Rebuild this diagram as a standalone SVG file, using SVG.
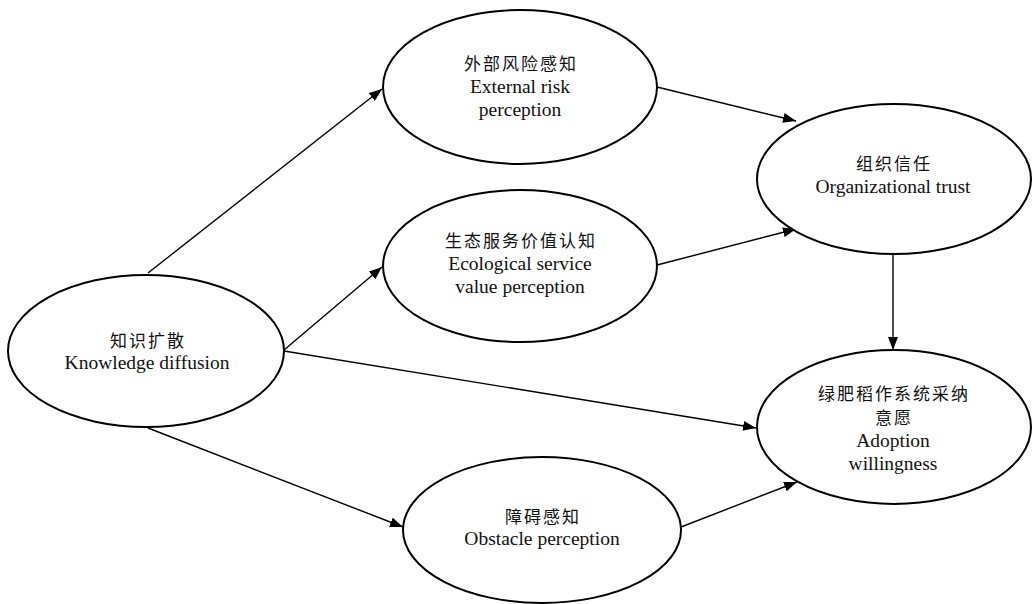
<svg xmlns="http://www.w3.org/2000/svg" width="1034" height="604" viewBox="0 0 1034 604">
<style>
.node ellipse{fill:#fff;stroke:#000;stroke-width:2}
.zh{font-family:"Noto Sans CJK SC","Noto Sans",sans-serif;font-size:17px;fill:#111;text-anchor:middle;letter-spacing:2px}
.en{font-family:"Liberation Serif",serif;font-size:19.5px;fill:#111;text-anchor:middle}
.edges line{stroke:#000;stroke-width:1.4;marker-end:url(#arr)}
</style>
<defs>
<marker id="arr" markerUnits="userSpaceOnUse" markerWidth="14" markerHeight="10" refX="13" refY="5" orient="auto">
<path d="M0,0 L13,5 L0,10 z" fill="#000"/>
</marker>
</defs>
<rect width="1034" height="604" fill="#fff"/>
<g class="edges">
<line x1="148" y1="273" x2="382" y2="89"/>
<line x1="284" y1="350" x2="382" y2="267"/>
<line x1="284" y1="351" x2="756" y2="428"/>
<line x1="148" y1="428" x2="403" y2="527"/>
<line x1="657" y1="87" x2="796" y2="121"/>
<line x1="657" y1="265" x2="796" y2="229"/>
<line x1="893" y1="253" x2="893" y2="350"/>
<line x1="681" y1="527" x2="797" y2="482"/>
</g>
<g id="knowledge" class="node">
<ellipse cx="146" cy="351" rx="138" ry="76"/>
<text class="zh" x="148" y="347">知识扩散</text>
<text class="en" x="147" y="369">Knowledge diffusion</text>
</g>
<g id="external" class="node">
<ellipse cx="520" cy="87" rx="137" ry="77"/>
<text class="zh" x="521" y="70">外部风险感知</text>
<text class="en" x="520" y="93">External risk</text>
<text class="en" x="520" y="116">perception</text>
</g>
<g id="ecological" class="node">
<ellipse cx="520" cy="266" rx="137" ry="76"/>
<text class="zh" x="521" y="247">生态服务价值认知</text>
<text class="en" x="520" y="270">Ecological service</text>
<text class="en" x="520" y="293">value perception</text>
</g>
<g id="trust" class="node">
<ellipse cx="894" cy="179" rx="137" ry="75"/>
<text class="zh" x="894" y="170">组织信任</text>
<text class="en" x="893" y="193">Organizational trust</text>
</g>
<g id="adoption" class="node">
<ellipse cx="894" cy="427" rx="137" ry="77"/>
<text class="zh" x="894" y="400">绿肥稻作系统采纳</text>
<text class="zh" x="894" y="424">意愿</text>
<text class="en" x="893" y="447">Adoption</text>
<text class="en" x="893" y="470">willingness</text>
</g>
<g id="obstacle" class="node">
<ellipse cx="542" cy="530" rx="139" ry="73"/>
<text class="zh" x="543" y="523">障碍感知</text>
<text class="en" x="542" y="545">Obstacle perception</text>
</g>
</svg>
